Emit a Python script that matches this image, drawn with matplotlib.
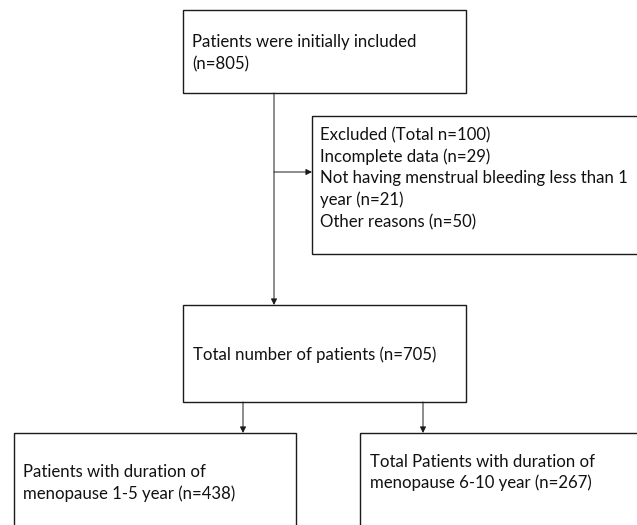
import matplotlib.pyplot as plt
from matplotlib.patches import Rectangle

# Flowchart text (one list per box)
initial_lines = ['Patients were initially included', '(n=805)']
excluded_lines = ['Excluded (Total n=100)',
                  'Incomplete data (n=29)',
                  'Not having menstrual bleeding less than 1',
                  'year (n=21)',
                  'Other reasons (n=50)']
total_lines = ['Total number of patients (n=705)']
group1_lines = ['Patients with duration of', 'menopause 1-5 year (n=438)']
group2_lines = ['Total Patients with duration of', 'menopause 6-10 year (n=267)']

W, H = 637, 525
fig = plt.figure(figsize=(W / 100, H / 100), dpi=100)
ax = fig.add_axes([0, 0, 1, 1])
ax.set_xlim(0, W)
ax.set_ylim(H, 0)
ax.axis('off')

font = dict(family=['Lato', 'DejaVu Sans'], fontsize=12.1, color='#111111')
edge = '#1a1a1a'


def box(x0, y0, x1, y1):
    ax.add_patch(Rectangle((x0, y0), x1 - x0, y1 - y0, fill=False,
                           edgecolor=edge, linewidth=1.0))


def lines(x, ys, texts):
    for y, t in zip(ys, texts):
        ax.text(x, y, t, ha='left', va='center', **font)


def arrow(x0, y0, x1, y1):
    ax.annotate('', xy=(x1, y1), xytext=(x0, y0),
                arrowprops=dict(arrowstyle='-|>', color=edge, lw=0.7,
                                mutation_scale=9, shrinkA=0, shrinkB=0))


# boxes
box(183, 10, 466, 93)
box(312, 116, 660, 254)
box(183, 305, 466, 402)
box(14, 433, 296, 540)
box(360, 433, 660, 540)

# texts
lines(192, [42, 64], initial_lines)
lines(320, [135, 157, 178, 200, 222], excluded_lines)
lines(193, [355], total_lines)
lines(23, [472, 494], group1_lines)
lines(370, [462, 483], group2_lines)

# connectors
arrow(274, 93, 274, 305)
arrow(274, 172, 312, 172)
arrow(243, 402, 243, 433)
arrow(423, 402, 423, 433)

fig.savefig('out.png', dpi=100)
